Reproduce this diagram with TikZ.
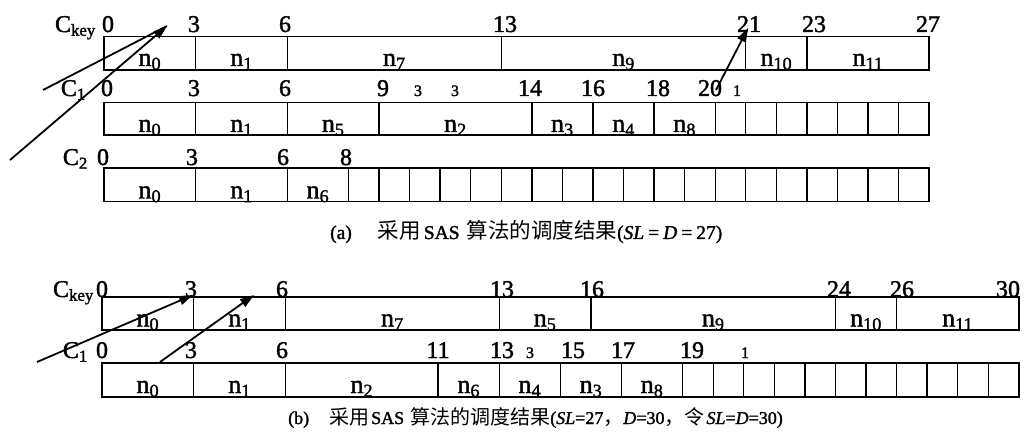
\documentclass[tikz,border=0pt]{standalone}
\usepackage{fontspec}
\setmainfont{Liberation Serif}[FakeBold=1.6]
\newfontfamily\cjk{Noto Sans CJK SC}
\newcommand\cj[1]{{\cjk\fontsize{21.5}{21.5}\selectfont #1}}
\newcommand\cjb[1]{{\cjk\fontsize{20}{20}\selectfont #1}}
\usetikzlibrary{arrows.meta}
\newcommand\cellrow[5]{% x0, top, bottom, end unit, ticks
  \draw[cell] (#1,#2) rectangle ({#1+#4*30.56},#3);
  \foreach \t in {#5} \draw[cell] ({#1+\t*30.56},#2) -- ({#1+\t*30.56},#3);
}
\begin{document}
\begin{tikzpicture}[x=1pt,y=-1pt,
 cell/.style={line width=1.4pt},
 num/.style={anchor=base,inner sep=0pt,font=\fontsize{24}{24}\selectfont},
 snum/.style={anchor=base,inner sep=0pt,font=\fontsize{16}{16}\selectfont},
 lab/.style={anchor=base,inner sep=0pt,font=\fontsize{26}{26}\selectfont},
 cname/.style={anchor=base east,inner sep=0pt,font=\fontsize{24}{24}\selectfont},
 captxt/.style={anchor=base west,inner sep=0pt,font=\fontsize{19.5}{19.5}\selectfont},
 captxtb/.style={anchor=base west,inner sep=0pt,font=\fontsize{18}{18}\selectfont},
 arr/.style={line width=1.8pt,-{Triangle[length=14pt,width=9pt]}},
 ln/.style={line width=1.8pt}
]
\useasboundingbox (0,0) rectangle (1032,438);
% ---------------- (a) ----------------
\cellrow{104}{36.5}{70}{27}{3,6,13,21,23}
\cellrow{104}{102.5}{135}{27}{3,6,9,14,16,18,20,21,...,26}
\cellrow{104}{168}{201.5}{27}{3,6,8,9,...,26}
% row names
\node[cname] (ckeya) at (96,32) {C\textsubscript{key}};
\node[cname] (c1a) at (86,96) {C\textsubscript{1}};
\node[cname] (c2a) at (88,165) {C\textsubscript{2}};
% time labels
\foreach \x/\v in {108/0,194/3,285/6,505/13,749/21,814/23,928/27}
  \node[num] (ak\v) at (\x,32) {\v};
\foreach \x/\v in {107/0,194/3,285/6,383/9,530/14,593/16,658/18,710/20}
  \node[num] (a1\v) at (\x,96) {\v};
\node[snum] (a1s1) at (418,96) {3};
\node[snum] (a1s2) at (455,96) {3};
\node[snum] (a1s3) at (737,96) {1};
\foreach \x/\v in {103/0,192/3,283/6,346/8}
  \node[num] (a2\v) at (\x,165) {\v};
% task labels
\foreach \a/\b/\s in {0/3/0,3/6/1,6/13/7,13/21/9,21/23/10,23/27/11}
  \node[lab] (akn\s) at ({104+(\a+\b)/2*30.56},66) {n\textsubscript{\s}};
\foreach \a/\b/\s in {0/3/0,3/6/1,6/9/5,9/14/2,14/16/3,16/18/4,18/20/8}
  \node[lab] (a1n\s) at ({104+(\a+\b)/2*30.56},132) {n\textsubscript{\s}};
\foreach \a/\b/\s in {0/3/0,3/6/1,6/8/6}
  \node[lab] (a2n\s) at ({104+(\a+\b)/2*30.56},198.5) {n\textsubscript{\s}};
% arrows
\coordinate (tipa) at (167,26);
\coordinate (sa1) at (10,160);
\coordinate (sa2) at (43,90);
\coordinate (tipb) at (748,28);
\coordinate (sa3) at (716,90);
\draw[ln] (sa2) -- (tipa);
\draw[arr] (sa1) -- (tipa);
\draw[arr] (sa3) -- (tipb);
% caption
\node[captxt] (capa) at (330,239) {(a)\hspace{26pt}\cj{采用}\hspace{3pt}SAS\hspace{7pt}\cj{算法的调度结果}(\textit{SL}\hspace{4pt}=\hspace{4pt}\textit{D}\hspace{4pt}=\hspace{4pt}27)};
% ---------------- (b) ----------------
\cellrow{102}{297}{330}{30}{3,6,13,16,24,26}
\cellrow{102}{363}{397}{30}{3,6,11,13,15,17,19,20,...,29}
\node[cname] (ckeyb) at (94,297) {C\textsubscript{key}};
\node[cname] (c1b) at (88,358) {C\textsubscript{1}};
\foreach \x/\v in {102/0,191/3,282/6,502/13,592/16,839/24,902/26,1008/30}
  \node[num] (bk\v) at (\x,297) {\v};
\foreach \x/\v in {102/0,191/3,282/6,438/11,502/13,573/15,623/17,692/19}
  \node[num] (b1\v) at (\x,358) {\v};
\node[snum] (b1s1) at (530,358) {3};
\node[snum] (b1s2) at (745,358) {1};
\foreach \a/\b/\s in {0/3/0,3/6/1,6/13/7,13/16/5,16/24/9,24/26/10,26/30/11}
  \node[lab] (bkn\s) at ({102+(\a+\b)/2*30.56},326.5) {n\textsubscript{\s}};
\foreach \a/\b/\s in {0/3/0,3/6/1,6/11/2,11/13/6,13/15/4,15/17/3,17/19/8}
  \node[lab] (b1n\s) at ({102+(\a+\b)/2*30.56},393) {n\textsubscript{\s}};
\coordinate (tipc) at (193,295);
\coordinate (sb1) at (37,362);
\coordinate (tipd) at (254,295);
\coordinate (sb2) at (160,362);
\draw[arr] (sb1) -- (tipc);
\draw[arr] (sb2) -- (tipd);
\node[captxtb] (capb) at (288,424) {(b)\hspace{20pt}\cjb{采用}\hspace{2pt}SAS\hspace{6pt}\cjb{算法的调度结果}(\textit{SL}=27\cjb{，}\textit{D}=30\cjb{，令}\hspace{2pt}\textit{SL}=\textit{D}=30)};
\end{tikzpicture}
\end{document}
